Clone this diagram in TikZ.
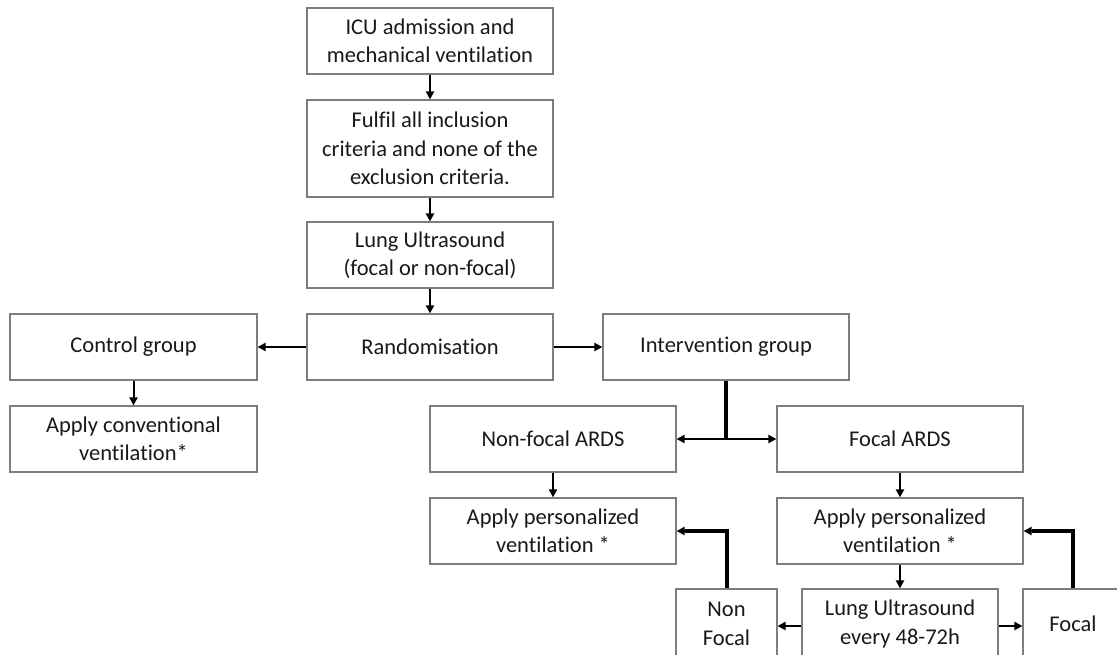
\documentclass[tikz,border=0pt]{standalone}
\usepackage{fontspec}
\setmainfont[Ligatures={NoCommon}]{Carlito}
\usetikzlibrary{arrows.meta}
\definecolor{boxgray}{RGB}{125,125,125}
\definecolor{txt}{RGB}{25,25,25}
\tikzset{
  box/.style={draw=boxgray, line width=1.2pt, fill=white, rectangle, align=center,
    text=txt, font=\fontsize{22.5}{28.5}\selectfont, inner sep=0pt},
  arr/.style={line width=2pt, -{Triangle[length=8pt,width=8pt]}},
  thickline/.style={line width=4pt},
}
\begin{document}
\begin{tikzpicture}[x=1pt,y=-1pt]
\useasboundingbox (0,0) rectangle (1117,654);
\begin{scope}
\clip (0,0) rectangle (1117,654);
\node[box, minimum width=246pt, minimum height=66pt] (icu) at (430,41) {ICU admission and\\mechanical ventilation};
\node[box, minimum width=246pt, minimum height=97pt] (ful) at (430,148.5) {Fulfil all inclusion\\criteria and none of the\\exclusion criteria.};
\node[box, minimum width=246pt, minimum height=66pt] (lus) at (430,255) {Lung Ultrasound\\(focal or non-focal)};
\node[box, minimum width=246pt, minimum height=66pt] (ran) at (430,347) {Randomisation};
\node[box, minimum width=247pt, minimum height=66pt] (con) at (133.5,347) {Control group};
\node[box, minimum width=246pt, minimum height=66pt] (int) at (726,347) {Intervention group};
\node[box, minimum width=247pt, minimum height=66pt] (conv) at (133.5,439) {Apply conventional\\ventilation*};
\node[box, minimum width=246pt, minimum height=66pt] (nfa) at (553,439) {Non-focal ARDS};
\node[box, minimum width=246pt, minimum height=66pt] (fa) at (900,439) {Focal ARDS};
\node[box, minimum width=246pt, minimum height=66pt] (apl) at (553,531) {Apply personalized\\ventilation *};
\node[box, minimum width=246pt, minimum height=66pt] (apr) at (900,531) {Apply personalized\\ventilation *};
\node[box, minimum width=101pt, minimum height=70pt] (nf) at (726.5,624) {Non\\Focal};
\node[box, minimum width=196pt, minimum height=70pt] (lus2) at (900,624) {Lung Ultrasound\\every 48-72h};
\node[box, minimum width=100pt, minimum height=70pt] (foc) at (1073,624) {Focal};

\draw[arr] (icu) -- (ful);
\draw[arr] (ful) -- (lus);
\draw[arr] (lus) -- (ran);
\draw[arr] (ran) -- (con);
\draw[arr] (ran) -- (int);
\draw[arr] (con) -- (conv);
\coordinate (split) at (726,439);
\draw[thickline] (int.south) -- (split);
\draw[arr] (split) -- (nfa.east);
\draw[arr] (split) -- (fa.west);
\draw[arr] (nfa) -- (apl);
\draw[arr] (fa) -- (apr);
\draw[arr] (apr) -- (lus2);
\draw[arr] ([yshift=-2pt]lus2.west) -- ([yshift=-2pt]nf.east);
\draw[arr] ([yshift=-2pt]lus2.east) -- ([yshift=-2pt]foc.west);
\draw[thickline] (nf.north) -- (nf.north |- apl.east) -- ([xshift=8pt]apl.east);
\draw[arr] ([xshift=9pt]apl.east) -- (apl.east);
\draw[thickline] (foc.north) -- (foc.north |- apr.east) -- ([xshift=8pt]apr.east);
\draw[arr] ([xshift=9pt]apr.east) -- (apr.east);
\end{scope}
\end{tikzpicture}
\end{document}
